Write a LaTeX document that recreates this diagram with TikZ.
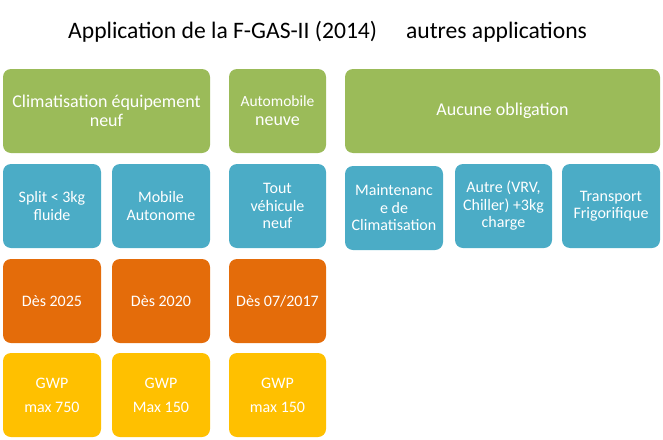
\documentclass[tikz,border=0pt]{standalone}
\usepackage{fontspec}
\setmainfont{Carlito}
\definecolor{cgreen}{HTML}{9BBB59}
\definecolor{cblue}{HTML}{4BACC6}
\definecolor{corange}{HTML}{E46C0A}
\definecolor{cyellow}{HTML}{FFC000}
\tikzset{
  tile/.style={rounded corners=8pt, text=white, align=center, inner sep=0pt, minimum height=84pt},
  gtile/.style={tile, fill=cgreen, font=\fontsize{18}{19}\selectfont},
  btile/.style={tile, fill=cblue, minimum width=98pt, font=\fontsize{16}{17.5}\selectfont},
  otile/.style={tile, fill=corange, minimum width=98pt, font=\fontsize{16}{17.5}\selectfont},
  ytile/.style={tile, fill=cyellow, minimum width=98pt, font=\fontsize{16}{24}\selectfont},
  titletext/.style={anchor=base west, inner sep=0pt, font=\fontsize{23.6}{26}\selectfont}
}
\begin{document}
\begin{tikzpicture}[x=1pt,y=-1pt]
\useasboundingbox (0,0) rectangle (663,439);
\node[titletext] (title) at (68,38) {Application de la F-GAS-II (2014)\hspace{29pt}autres applications};
% row 1
\node[gtile, minimum width=207pt] (g1) at (106.5,111) {Climatisation équipement\\neuf};
\node[gtile, minimum width=97pt] (g2) at (277.5,111) {{\fontsize{15.5}{19}\selectfont Automobile}\\neuve};
\node[gtile, minimum width=315pt] (g3) at (502.5,111) {Aucune obligation};
% row 2
\node[btile] (b1) at (52,206) {Split < 3kg\\fluide};
\node[btile] (b2) at (161,206) {Mobile\\Autonome};
\node[btile, minimum width=97pt] (b3) at (277.5,206) {Tout\\véhicule\\neuf};
\node[btile] (b4) at (394,208) {Maintenanc\\e de\\Climatisation};
\node[btile, minimum width=97pt] (b5) at (503.5,206) {Autre (VRV,\\Chiller) +3kg\\charge};
\node[btile] (b6) at (611,206) {Transport\\Frigorifique};
% row 3
\node[otile] (o1) at (52,301) {Dès 2025};
\node[otile] (o2) at (161,301) {Dès 2020};
\node[otile, minimum width=97pt] (o3) at (277.5,301) {Dès 07/2017};
% row 4
\node[ytile] (y1) at (52,395) {GWP\\max 750};
\node[ytile] (y2) at (161,395) {GWP\\Max 150};
\node[ytile, minimum width=97pt] (y3) at (277.5,395) {GWP\\max 150};
\end{tikzpicture}
\end{document}
